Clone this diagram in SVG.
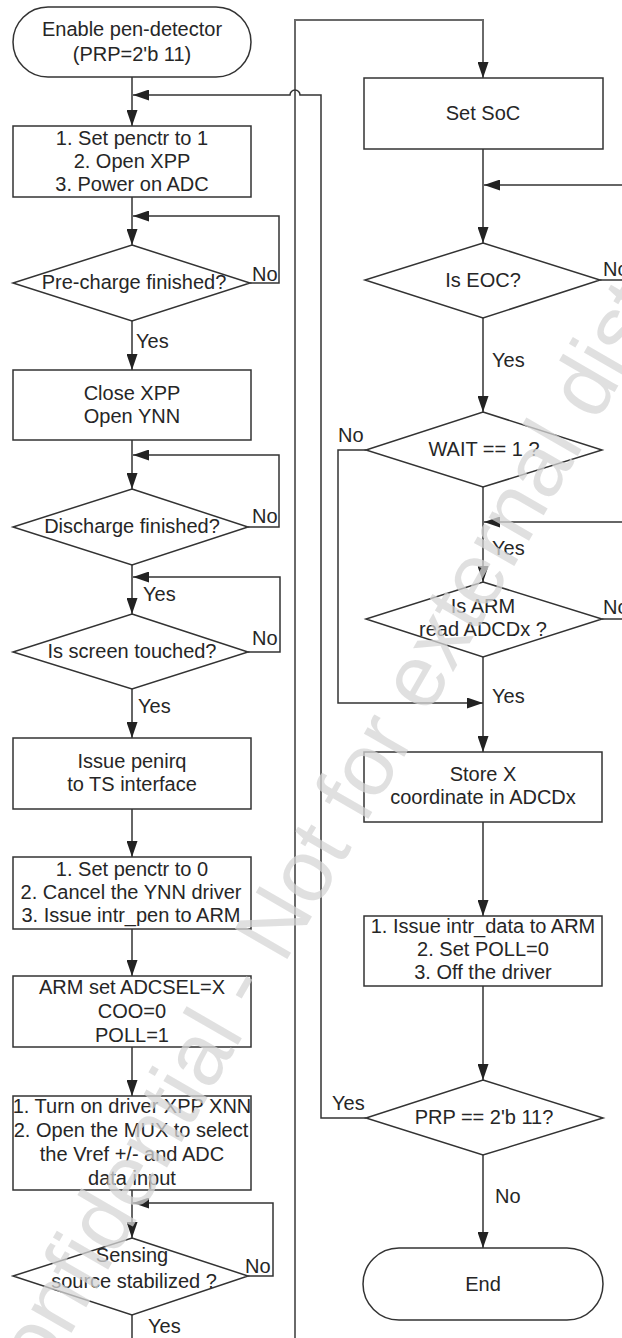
<svg xmlns="http://www.w3.org/2000/svg" width="622" height="1338" viewBox="0 0 622 1338">
  <style>
    .shape { fill: #ffffff; stroke: #333333; stroke-width: 1.5; }
    .conn { fill: none; stroke: #333333; stroke-width: 1.5; }
    .trunk { fill: none; stroke: #6a6a6a; stroke-width: 2; }
    .t { font-family: "Liberation Sans", Arial, sans-serif; font-size: 20px; fill: #262626; text-anchor: middle; }
    .lbl { font-family: "Liberation Sans", Arial, sans-serif; font-size: 20px; fill: #262626; }
    .wm { font-family: "Liberation Sans", Arial, sans-serif; font-size: 88px; fill: #d6d6d6; fill-opacity: 0.75; text-anchor: middle; }
  </style>
  <defs>
    <marker id="arrow" viewBox="0 0 16 11" refX="16" refY="5.5" markerWidth="16" markerHeight="11" markerUnits="userSpaceOnUse" orient="auto">
      <path d="M0,0 L16,5.5 L0,11 z" fill="#222222"/>
    </marker>
  </defs>
  <rect width="622" height="1338" fill="#ffffff"/>

  <!-- connectors -->
  <g id="connectors">
    <!-- long return trunk into Set SoC -->
    <path class="trunk" d="M295,1338 V20 H483 V78" marker-end="url(#arrow)"/>
    <!-- PRP == 2'b 11 (Yes) back to the top, hopping over the trunk -->
    <path class="conn" d="M366,1118 H321 V95 H300 A5,5 0 0 0 290,95 H133" marker-end="url(#arrow)"/>

    <!-- left column -->
    <path class="conn" d="M132,77 V126" marker-end="url(#arrow)"/>
    <path class="conn" d="M132,197 V245" marker-end="url(#arrow)"/>
    <path class="conn" d="M250,283 H279 V216 H133" marker-end="url(#arrow)"/>
    <path class="conn" d="M132,321 V370" marker-end="url(#arrow)"/>
    <path class="conn" d="M132,440 V489" marker-end="url(#arrow)"/>
    <path class="conn" d="M248,527 H279 V455 H133" marker-end="url(#arrow)"/>
    <path class="conn" d="M132,565 V614" marker-end="url(#arrow)"/>
    <path class="conn" d="M248,652 H280 V577 H133" marker-end="url(#arrow)"/>
    <path class="conn" d="M132,689 V738" marker-end="url(#arrow)"/>
    <path class="conn" d="M132,809 V857" marker-end="url(#arrow)"/>
    <path class="conn" d="M132,929 V976" marker-end="url(#arrow)"/>
    <path class="conn" d="M132,1047 V1096" marker-end="url(#arrow)"/>
    <path class="conn" d="M132,1190 V1238" marker-end="url(#arrow)"/>
    <path class="conn" d="M248,1276 H273 V1203 H133" marker-end="url(#arrow)"/>
    <path class="conn" d="M132,1315 V1338"/>

    <!-- right column -->
    <path class="conn" d="M483,149 V243" marker-end="url(#arrow)"/>
    <path class="conn" d="M622,185 H484" marker-end="url(#arrow)"/>
    <path class="conn" d="M600,280 H622"/>
    <path class="conn" d="M483,318 V412" marker-end="url(#arrow)"/>
    <path class="conn" d="M366,450 H338 V703 H483" marker-end="url(#arrow)"/>
    <path class="conn" d="M483,487 V582" marker-end="url(#arrow)"/>
    <path class="conn" d="M622,522 H484" marker-end="url(#arrow)"/>
    <path class="conn" d="M602,619 H622"/>
    <path class="conn" d="M483,657 V752" marker-end="url(#arrow)"/>
    <path class="conn" d="M483,822 V916" marker-end="url(#arrow)"/>
    <path class="conn" d="M483,986 V1080" marker-end="url(#arrow)"/>
    <path class="conn" d="M483,1155 V1248" marker-end="url(#arrow)"/>

    <!-- branch labels -->
    <text class="lbl" x="252" y="281">No</text>
    <text class="lbl" x="136" y="348">Yes</text>
    <text class="lbl" x="252" y="523">No</text>
    <text class="lbl" x="143" y="601">Yes</text>
    <text class="lbl" x="252" y="645">No</text>
    <text class="lbl" x="138" y="713">Yes</text>
    <text class="lbl" x="245" y="1273">No</text>
    <text class="lbl" x="148" y="1333">Yes</text>
    <text class="lbl" x="603" y="276">No</text>
    <text class="lbl" x="492" y="367">Yes</text>
    <text class="lbl" x="338" y="442">No</text>
    <text class="lbl" x="492" y="555">Yes</text>
    <text class="lbl" x="603" y="614">No</text>
    <text class="lbl" x="492" y="703">Yes</text>
    <text class="lbl" x="332" y="1110">Yes</text>
    <text class="lbl" x="495" y="1203">No</text>
  </g>

  <!-- left column nodes -->
  <g id="start">
    <rect class="shape" x="13" y="7" width="238" height="70" rx="35" ry="35"/>
    <text class="t" x="132" y="36">Enable pen-detector</text>
    <text class="t" x="132" y="61">(PRP=2'b 11)</text>
  </g>
  <g id="power-on">
    <rect class="shape" x="13" y="126" width="238" height="71"/>
    <text class="t" x="132" y="145">1. Set penctr to 1</text>
    <text class="t" x="132" y="168">2. Open XPP</text>
    <text class="t" x="132" y="191">3. Power on ADC</text>
  </g>
  <g id="precharge">
    <polygon class="shape" points="132,245 250,283 132,321 13,283"/>
    <text class="t" x="134" y="289">Pre-charge finished?</text>
  </g>
  <g id="close-xpp">
    <rect class="shape" x="13" y="370" width="238" height="70"/>
    <text class="t" x="132" y="400">Close XPP</text>
    <text class="t" x="132" y="423">Open YNN</text>
  </g>
  <g id="discharge">
    <polygon class="shape" points="132,489 248,527 132,565 13,527"/>
    <text class="t" x="132" y="533">Discharge finished?</text>
  </g>
  <g id="touched">
    <polygon class="shape" points="132,614 248,652 132,689 13,652"/>
    <text class="t" x="132" y="658">Is screen touched?</text>
  </g>
  <g id="penirq">
    <rect class="shape" x="13" y="738" width="238" height="71"/>
    <text class="t" x="132" y="768">Issue penirq</text>
    <text class="t" x="132" y="791">to TS interface</text>
  </g>
  <g id="cancel-ynn">
    <rect class="shape" x="13" y="857" width="238" height="72"/>
    <text class="t" x="132" y="876">1. Set penctr to 0</text>
    <text class="t" x="131" y="899">2. Cancel the YNN driver</text>
    <text class="t" x="131" y="922">3. Issue intr_pen to ARM</text>
  </g>
  <g id="adcsel">
    <rect class="shape" x="13" y="976" width="238" height="71"/>
    <text class="t" x="132" y="994">ARM set ADCSEL=X</text>
    <text class="t" x="132" y="1018">COO=0</text>
    <text class="t" x="132" y="1042">POLL=1</text>
  </g>
  <g id="driver-on">
    <rect class="shape" x="13" y="1096" width="238" height="94"/>
    <text class="t" x="132" y="1113">1. Turn on driver XPP XNN</text>
    <text class="t" x="131" y="1137">2. Open the MUX to select</text>
    <text class="t" x="132" y="1161">the Vref +/- and ADC</text>
    <text class="t" x="132" y="1185">data input</text>
  </g>
  <g id="stabilized">
    <polygon class="shape" points="132,1238 248,1276 132,1315 13,1276"/>
    <text class="t" x="132" y="1262">Sensing</text>
    <text class="t" x="134" y="1288">source stabilized ?</text>
  </g>

  <!-- right column nodes -->
  <g id="set-soc">
    <rect class="shape" x="364" y="78" width="239" height="71"/>
    <text class="t" x="483" y="120">Set SoC</text>
  </g>
  <g id="is-eoc">
    <polygon class="shape" points="483,243 600,280 483,318 365,280"/>
    <text class="t" x="483" y="287">Is EOC?</text>
  </g>
  <g id="wait">
    <polygon class="shape" points="483,412 602,450 483,487 366,450"/>
    <text class="t" x="484" y="456">WAIT == 1 ?</text>
  </g>
  <g id="arm-read">
    <polygon class="shape" points="483,582 602,619 483,657 366,619"/>
    <text class="t" x="483" y="613">Is ARM</text>
    <text class="t" x="483" y="636">read ADCDx ?</text>
  </g>
  <g id="store-x">
    <rect class="shape" x="364" y="752" width="238" height="70"/>
    <text class="t" x="483" y="781">Store X</text>
    <text class="t" x="483" y="804">coordinate in ADCDx</text>
  </g>
  <g id="intr-data">
    <rect class="shape" x="364" y="916" width="238" height="70"/>
    <text class="t" x="483" y="933">1. Issue intr_data to ARM</text>
    <text class="t" x="483" y="956">2. Set POLL=0</text>
    <text class="t" x="483" y="979">3. Off the driver</text>
  </g>
  <g id="prp-check">
    <polygon class="shape" points="483,1080 603,1118 483,1155 366,1118"/>
    <text class="t" x="484" y="1124">PRP == 2'b 11?</text>
  </g>
  <g id="end">
    <rect class="shape" x="363" y="1248" width="240" height="72" rx="36" ry="36"/>
    <text class="t" x="483" y="1291">End</text>
  </g>

  <!-- diagonal distribution stamp -->
  <text class="wm" transform="translate(385,730) rotate(-60)" dy="30">Confidential - Not for external distribution</text>
</svg>
